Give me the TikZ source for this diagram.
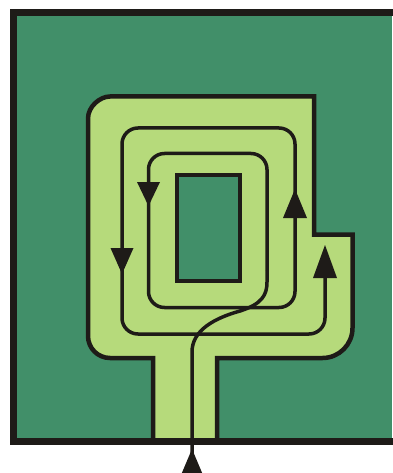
\documentclass[tikz,border=0pt]{standalone}
\definecolor{dkgreen}{HTML}{418F69}
\definecolor{ltgreen}{HTML}{B6DA7B}
\definecolor{ink}{HTML}{1E1B18}
\begin{document}
\begin{tikzpicture}[x=1pt,y=-1pt,
  frameline/.style={draw=ink,line width=7pt,line join=miter},
  padline/.style={draw=ink,fill=ltgreen,line width=4.5pt,line join=miter},
  holeline/.style={draw=ink,fill=dkgreen,line width=4.5pt,line join=miter},
  wire/.style={draw=ink,line width=3.5pt},
  tiphead/.style={fill=ink}]
\useasboundingbox (0,0) rectangle (392,473);
\fill[white] (0,0) rectangle (392,473);
\fill[dkgreen] (13,12.5) rectangle (392,441);
% light green pad
\path[padline] (153,441) -- (153,358) -- (110,358)
  .. controls (97.85,358) and (88,348.15) .. (88,336)
  -- (88,118.5)
  .. controls (88,106.35) and (100.15,96.5) .. (110,96.5)
  -- (314,96.5) -- (314,234.5) -- (352.5,234.5) -- (352.5,328)
  .. controls (352.5,344.57) and (339.07,358) .. (322.5,358)
  -- (217,358) -- (217,441) -- cycle;
% hole
\path[holeline] (177,175) rectangle (240,281);
% spiral winding
\path[wire] (192,473) -- (192,352)
  .. controls (192,330) and (215,318) .. (240,311)
  .. controls (262,304) and (267,295) .. (267,282) -- (267,270);
\path[wire,rounded corners=16pt] (267,270) -- (267,153.5) -- (148.5,153.5)
  -- (148.5,307.5) -- (295,307.5) -- (295,128) -- (122,128)
  -- (122,334) -- (325,334) -- (325,252);
% arrow heads
\fill[tiphead] (181,475) -- (203,475) -- (192,449) -- cycle;
\fill[tiphead] (137,182) -- (160,182) -- (148.5,206) -- cycle;
\fill[tiphead] (283,218) -- (307,218) -- (295,189) -- cycle;
\fill[tiphead] (110.5,248) -- (133.5,248) -- (122,274) -- cycle;
\fill[tiphead] (313,278) -- (337,278) -- (325,245) -- cycle;
% frame
\path[frameline] (395,12.5) -- (13,12.5) -- (13,441) -- (395,441);
\end{tikzpicture}
\end{document}
